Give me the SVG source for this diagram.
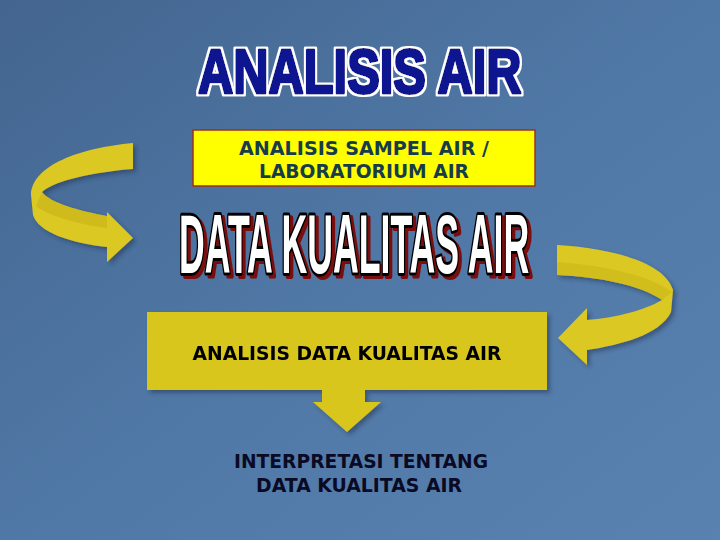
<svg xmlns="http://www.w3.org/2000/svg" width="720" height="540" viewBox="0 0 720 540">
  <defs>
    <linearGradient id="bg" x1="0" y1="0" x2="1" y2="1">
      <stop offset="0" stop-color="#43658f"/>
      <stop offset="0.5" stop-color="#5078a6"/>
      <stop offset="1" stop-color="#5a82b0"/>
    </linearGradient>
    <filter id="sh" x="-10%" y="-10%" width="130%" height="130%">
      <feDropShadow dx="3" dy="3" stdDeviation="2" flood-color="#1e3050" flood-opacity="0.5"/>
    </filter>
    <filter id="redsh" x="-5%" y="-10%" width="115%" height="130%">
      <feDropShadow dx="3" dy="3" stdDeviation="0.5" flood-color="#7a0c0c" flood-opacity="1"/>
    </filter>
    <filter id="whiteout" x="-5%" y="-10%" width="110%" height="130%">
      <feMorphology in="SourceAlpha" operator="dilate" radius="1.5" result="d"/>
      <feFlood flood-color="#ffffff"/>
      <feComposite in2="d" operator="in" result="w"/>
      <feMerge><feMergeNode in="w"/><feMergeNode in="SourceGraphic"/></feMerge>
    </filter>
  </defs>
  <style>
    .title { font-family: "Liberation Sans", Arial, sans-serif; font-weight: bold; }
    .lbl { font-family: "DejaVu Sans", Verdana, sans-serif; font-weight: bold; font-size: 19px; text-anchor: middle; }
    .ribbon { fill: #dcc820; }
    .ribbonDark { fill: #b8a412; }
  </style>
  <rect width="720" height="540" fill="url(#bg)"/>

  <g id="title" filter="url(#whiteout)">
    <g transform="translate(198,93) scale(0.775,1)">
      <text class="title" x="0" y="0" font-size="63" fill="#0c1890" stroke="#0c1890" stroke-width="3" stroke-linejoin="round">ANALISIS AIR</text>
    </g>
  </g>

  <g id="box-sampel">
    <rect x="193" y="130" width="342" height="56" fill="#ffff00" stroke="#a03020" stroke-width="1.5"/>
    <text class="lbl" x="364" y="155" fill="#163c4c" textLength="250" lengthAdjust="spacingAndGlyphs">ANALISIS SAMPEL AIR /</text>
    <text class="lbl" x="364" y="178" fill="#163c4c" textLength="210" lengthAdjust="spacingAndGlyphs">LABORATORIUM AIR</text>
  </g>

  <g id="data-kualitas" filter="url(#redsh)">
    <g transform="translate(179,273) scale(0.425,1)">
      <text class="title" x="0" y="0" font-size="84" fill="#ffffff" stroke="#000000" stroke-width="6" stroke-linejoin="round" paint-order="stroke">DATA KUALITAS AIR</text>
    </g>
  </g>

  <g id="connectors">
    <g id="arrow-left" filter="url(#sh)">
      <path class="ribbon" d="M133,143 L133,169 C95,172 55,180 42,192 C50,203 80,211 107,216 L107,212 L133,238 L107,262 L107,247 C70,243 38,232 33,215 L31,195 C32,165 80,148 133,143 Z"/>
      <path class="ribbonDark" d="M42,192 C50,203 80,211 107,216 L107,228 C75,224 45,214 36,206 Z" opacity="0.35"/>
    </g>
    <g id="arrow-right" filter="url(#sh)">
      <path class="ribbon" d="M557,245 C610,248 665,262 673,290 L671,312 C660,335 620,345 587,350 L587,365 L558,338 L587,308 L587,320 C615,318 645,310 662,300 C640,285 600,277 557,275 Z"/>
      <path class="ribbonDark" d="M662,300 C640,285 600,277 557,275 L557,262 C600,265 650,275 672,292 Z" opacity="0.3"/>
    </g>
  </g>

  <g id="box-analisis-data" filter="url(#sh)">
    <path d="M147,312 L547,312 L547,390 L365,390 L365,402 L381,402 L347,432 L313,402 L322,402 L322,390 L147,390 Z" fill="#d8c61e"/>
    <text class="lbl" x="347" y="360" fill="#000000" textLength="309" lengthAdjust="spacingAndGlyphs">ANALISIS DATA KUALITAS AIR</text>
  </g>

  <g id="interpretasi">
    <text class="lbl" x="361" y="468" fill="#0a0a24" textLength="254" lengthAdjust="spacingAndGlyphs">INTERPRETASI TENTANG</text>
    <text class="lbl" x="359" y="492" fill="#0a0a24" textLength="206" lengthAdjust="spacingAndGlyphs">DATA KUALITAS AIR</text>
  </g>
</svg>
